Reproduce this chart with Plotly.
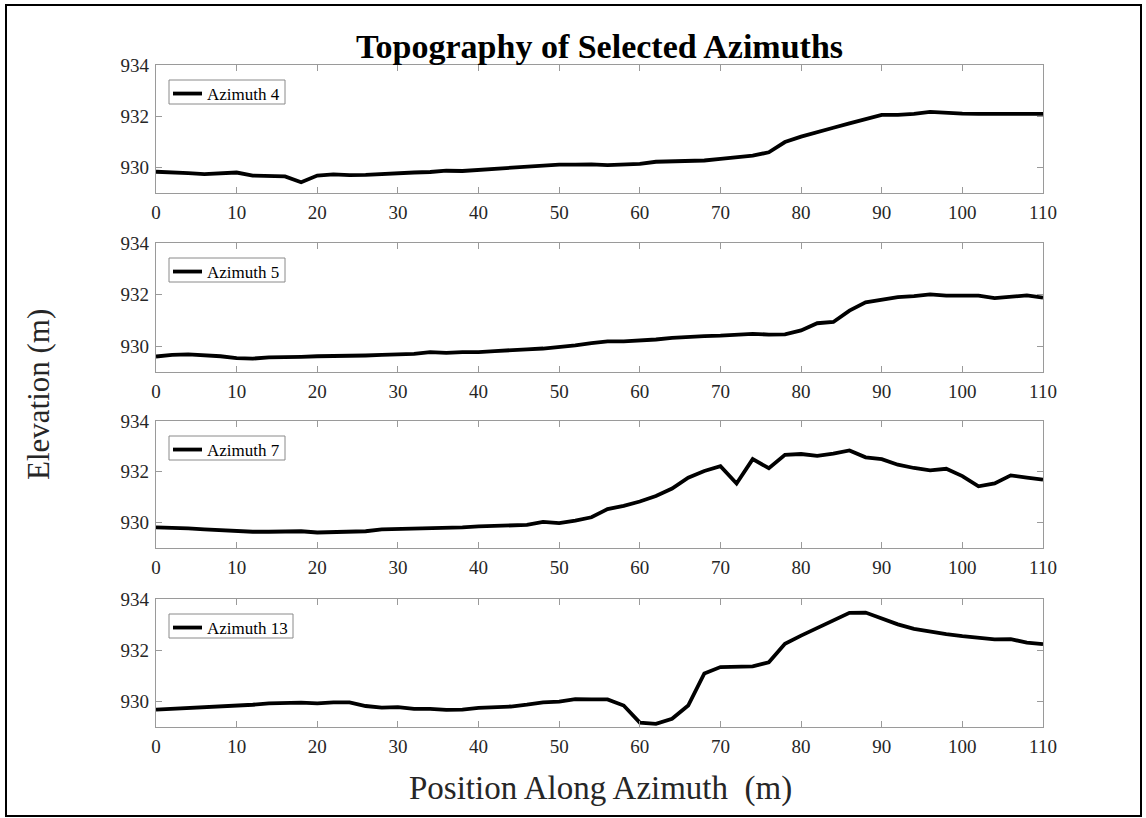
import plotly.graph_objects as go

# Position along each azimuth (m), sampled every 2 m
position = list(range(0, 112, 2))

azimuth_4 = [929.83, 929.82, 929.78, 929.74, 929.77, 929.80, 929.68, 929.65, 929.65, 929.42,
             929.68, 929.73, 929.70, 929.71, 929.75, 929.78, 929.80, 929.82, 929.87, 929.86,
             929.90, 929.94, 930.01, 930.05, 930.08, 930.11, 930.11, 930.12, 930.09, 930.11,
             930.14, 930.22, 930.23, 930.26, 930.27, 930.33, 930.39, 930.46, 930.59, 930.99,
             931.20, 931.39, 931.55, 931.72, 931.90, 932.05, 932.05, 932.09, 932.17, 932.12,
             932.10, 932.09, 932.09, 932.09, 932.09, 932.09]

azimuth_5 = [929.60, 929.66, 929.68, 929.66, 929.61, 929.54, 929.52, 929.57, 929.57, 929.59,
             929.61, 929.61, 929.63, 929.64, 929.66, 929.69, 929.70, 929.77, 929.74, 929.77,
             929.77, 929.81, 929.86, 929.88, 929.91, 929.96, 930.03, 930.12, 930.19, 930.19,
             930.22, 930.26, 930.32, 930.37, 930.39, 930.41, 930.44, 930.48, 930.45, 930.46,
             930.61, 930.89, 930.94, 931.38, 931.70, 931.81, 931.90, 931.94, 932.01, 931.96,
             931.95, 931.96, 931.86, 931.90, 931.97, 931.88]

azimuth_7 = [929.81, 929.80, 929.77, 929.73, 929.69, 929.65, 929.64, 929.64, 929.64, 929.66,
             929.61, 929.62, 929.64, 929.66, 929.73, 929.74, 929.75, 929.77, 929.79, 929.81,
             929.85, 929.86, 929.88, 929.91, 930.03, 929.98, 930.08, 930.21, 930.53, 930.66,
             930.83, 931.05, 931.34, 931.77, 932.03, 932.22, 931.54, 932.50, 932.14, 932.67,
             932.70, 932.63, 932.72, 932.84, 932.57, 932.50, 932.28, 932.15, 932.06, 932.12,
             931.83, 931.43, 931.54, 931.86, 931.77, 931.69]

azimuth_13 = [929.68, 929.71, 929.76, 929.79, 929.79, 929.83, 929.87, 929.92, 929.95, 929.95,
              929.92, 929.96, 929.96, 929.82, 929.76, 929.78, 929.71, 929.71, 929.67, 929.68,
              929.75, 929.78, 929.80, 929.87, 929.96, 929.99, 930.09, 930.08, 930.08, 929.84,
              929.17, 929.12, 929.32, 929.84, 931.09, 931.34, 931.34, 931.37, 931.53, 932.25,
              932.57, 932.87, 933.20, 933.46, 933.47, 933.25, 933.01, 932.83, 932.72, 932.63,
              932.55, 932.50, 932.42, 932.43, 932.30, 932.24]

series_names = ["Azimuth 4", "Azimuth 5", "Azimuth 7", "Azimuth 13"]
series_values = [azimuth_4, azimuth_5, azimuth_7, azimuth_13]

x_ticks = list(range(0, 120, 10))
y_ticks = [930, 932, 934]

# page geometry (px)
W, H = 1146, 818
ML, MR, MT, MB = 156, 103, 65, 91
PW, PH = W - ML - MR, H - MT - MB


def py(px):
    """pixel row -> paper y"""
    return (H - MB - px) / PH


def pxx(px):
    """pixel column -> paper x"""
    return (px - ML) / PW


# (top, bottom) of each panel in pixels
panels = [(65, 193), (243, 372), (421, 548), (599, 727)]
# right edge of each legend frame in pixels
legend_right = [285, 285, 285, 293]

FONT = "Liberation Serif"
FRAME = "#9a9a9a"
TICKTXT = "#262626"

fig = go.Figure()
layout = dict(
    width=W, height=H,
    margin=dict(l=ML, r=MR, t=MT, b=MB),
    paper_bgcolor="white", plot_bgcolor="white",
    font=dict(family=FONT, size=19, color=TICKTXT),
    showlegend=True,
)
shapes = []

for i, (name, vals) in enumerate(zip(series_names, series_values)):
    k = i + 1
    xa = "x" if k == 1 else f"x{k}"
    ya = "y" if k == 1 else f"y{k}"
    lg = "legend" if k == 1 else f"legend{k}"
    fig.add_trace(go.Scatter(
        x=position, y=vals, mode="lines", name=name,
        line=dict(color="black", width=3.8),
        xaxis=xa, yaxis=ya, legend=lg,
    ))
    top, bot = panels[i]
    common = dict(showgrid=False, zeroline=False, showline=True, linecolor=FRAME,
                  linewidth=1.2, mirror="ticks", ticks="inside", ticklen=6,
                  tickcolor=FRAME, tickwidth=1.2,
                  tickfont=dict(family=FONT, size=19, color=TICKTXT))
    layout["xaxis" if k == 1 else f"xaxis{k}"] = dict(
        common, domain=[0, 1], range=[0, 110], tickvals=x_ticks,
        anchor=ya, ticklabelstandoff=2)
    layout["yaxis" if k == 1 else f"yaxis{k}"] = dict(
        common, domain=[py(bot), py(top)], range=[929, 934], tickvals=y_ticks,
        anchor=xa, ticklabelstandoff=2)
    layout[lg] = dict(
        x=pxx(173), y=py(top + 11), xanchor="left", yanchor="top",
        bgcolor="rgba(0,0,0,0)", borderwidth=0,
        font=dict(family=FONT, size=17, color="black"),
        itemwidth=30, tracegroupgap=0, indentation=-6,
    )
    # thin frame around the legend entry
    shapes.append(dict(type="rect", xref="paper", yref="paper",
                       x0=pxx(169), x1=pxx(legend_right[i]),
                       y0=py(top + 39), y1=py(top + 15),
                       line=dict(color="#8a8a8a", width=1),
                       fillcolor="rgba(0,0,0,0)", layer="above"))

layout["annotations"] = [
    dict(text="<b>Topography of Selected Azimuths</b>", x=pxx(599), y=py(46),
         xref="paper", yref="paper", showarrow=False, xanchor="center", yanchor="middle",
         font=dict(family=FONT, size=34, color="black")),
    dict(text="Elevation (m)", x=pxx(38), y=py(395), xref="paper", yref="paper",
         showarrow=False, textangle=-90, xanchor="center", yanchor="middle",
         font=dict(family=FONT, size=31, color=TICKTXT)),
    dict(text="Position Along Azimuth\u00a0 (m)", x=pxx(600), y=py(788),
         xref="paper", yref="paper", showarrow=False, xanchor="center", yanchor="middle",
         font=dict(family=FONT, size=33, color=TICKTXT)),
]

# outer figure frame
shapes.append(dict(type="rect", xref="paper", yref="paper",
                   x0=pxx(6), x1=pxx(1141), y0=py(5), y1=py(816),
                   line=dict(color="black", width=2), fillcolor="rgba(0,0,0,0)",
                   layer="above"))
layout["shapes"] = shapes

fig.update_layout(**layout)
fig.write_html("out.html")
